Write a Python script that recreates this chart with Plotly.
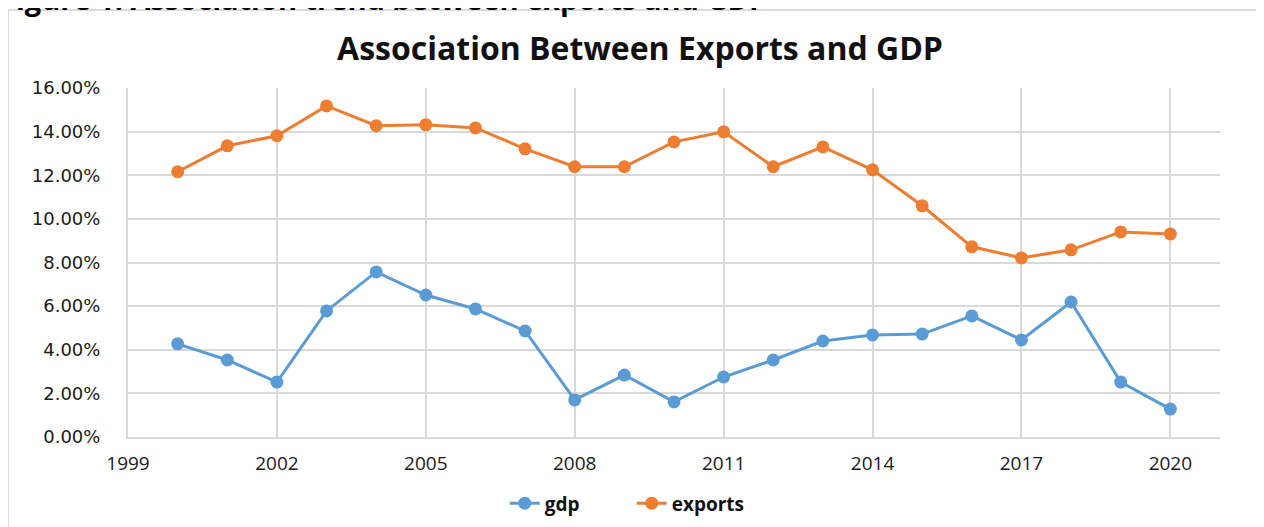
import plotly.graph_objects as go

years = list(range(2000, 2021))
gdp = [4.27, 3.53, 2.52, 5.78, 7.57, 6.51, 5.87, 4.86, 1.70, 2.84, 1.61,
       2.75, 3.53, 4.40, 4.68, 4.72, 5.55, 4.45, 6.19, 2.52, 1.28]
exports = [12.16, 13.35, 13.81, 15.18, 14.27, 14.31, 14.17, 13.21, 12.39, 12.39, 13.53,
           13.99, 12.39, 13.30, 12.25, 10.60, 8.72, 8.21, 8.58, 9.40, 9.31]
x_ticks = [1999, 2002, 2005, 2008, 2011, 2014, 2017, 2020]
y_ticks = [0, 2, 4, 6, 8, 10, 12, 14, 16]
y_labels = ["0.00%", "2.00%", "4.00%", "6.00%", "8.00%",
            "10.00%", "12.00%", "14.00%", "16.00%"]

fig = go.Figure()
fig.add_trace(go.Scatter(
    x=years, y=gdp, name="gdp", mode="lines+markers",
    line=dict(color="#5B9BD5", width=3),
    marker=dict(size=13, color="#5B9BD5"),
))
fig.add_trace(go.Scatter(
    x=years, y=exports, name="exports", mode="lines+markers",
    line=dict(color="#ED7D31", width=3),
    marker=dict(size=13, color="#ED7D31"),
))

grid = "#d9d9d9"
# page has an 8px body margin, so margins are offset by 8px
fig.update_layout(
    width=1264, height=527,
    margin=dict(l=120, r=52, t=80, b=98),
    paper_bgcolor="white", plot_bgcolor="white",
    font=dict(family="DejaVu Sans", color="#1a1a1a"),
    title=dict(
        text="<b>Association Between Exports and GDP</b>",
        x=0.5, xanchor="center", y=0.922, yanchor="middle",
        font=dict(size=32, family="Open Sans", color="#111"),
    ),
    xaxis=dict(
        range=[1999, 2021], tickvals=x_ticks,
        showgrid=True, gridcolor=grid, gridwidth=2,
        showline=True, linecolor=grid, linewidth=2,
        ticks="", ticklabelstandoff=8,
        tickfont=dict(size=19, family="Open Sans", color="#1a1a1a"),
        zeroline=False,
    ),
    yaxis=dict(
        range=[0, 16], tickvals=y_ticks, ticktext=y_labels,
        showgrid=True, gridcolor=grid, gridwidth=2,
        showline=True, linecolor=grid, linewidth=2,
        ticks="", ticklabelstandoff=22,
        tickfont=dict(size=18, family="DejaVu Sans", color="#1a1a1a"),
        zeroline=False,
    ),
    legend=dict(
        orientation="h", x=0.345, xanchor="left", y=-0.19, yanchor="middle",
        font=dict(size=19, family="Open Sans", color="#111", weight="bold"),
        entrywidth=82, entrywidthmode="pixels",
    ),
    shapes=[dict(
        type="rect", xref="paper", yref="paper",
        x0=-0.1099, x1=1.06, y0=-0.4, y1=1.2235,
        line=dict(color="#d0d0d0", width=1.5), layer="below",
    )],
    annotations=[dict(
        text="<b>Figure 1: Association trend between exports and GDP</b>",
        xref="paper", yref="paper", x=-0.119, xanchor="left",
        y=1.196, yanchor="bottom", showarrow=False,
        font=dict(size=29, family="Open Sans", color="#000"),
    )],
)

fig.write_html("out.html")
